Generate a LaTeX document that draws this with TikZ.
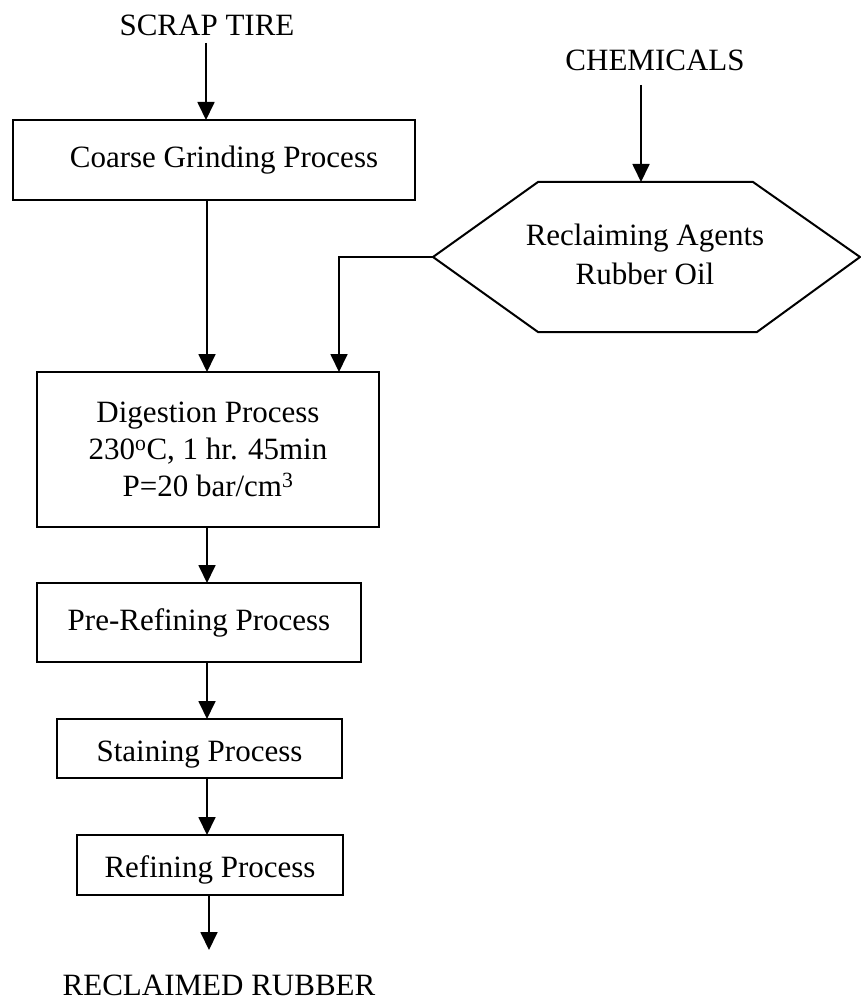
\documentclass[tikz,border=0pt]{standalone}
\usepackage{fontspec}
\setmainfont{Liberation Serif}
\usetikzlibrary{arrows.meta}
\begin{document}
\begin{tikzpicture}[x=1pt,y=-1pt,
  lbl/.style={font=\fontsize{31}{38}\selectfont, inner sep=0pt, outer sep=0pt, align=center},
  box/.style={draw, line width=2pt, inner sep=0pt, outer sep=0pt, font=\fontsize{31}{38}\selectfont, align=center},
  arr/.style={line width=1.8pt, -{Triangle[width=17pt,length=18pt]}}]
\useasboundingbox[fill=white] (0,0) rectangle (861,1003);
% column
\coordinate (col) at (207,0);
% inputs
\node[lbl, anchor=base] (scrap) at (207,36) {SCRAP TIRE};
\coordinate (scrapout) at (206,43);
\node[lbl, anchor=base] (chem) at (655,71) {CHEMICALS};
\coordinate (chemout) at (641,85);
% boxes
\node[box, minimum width=402pt, minimum height=80pt] (coarse) at (214,160) {\hspace*{20pt}Coarse Grinding Process};
\node[box, minimum width=342pt, minimum height=155pt, font=\fontsize{31}{37}\selectfont] (dig) at (208,449.5) {Digestion Process\\230\textsuperscript{o}C, 1 hr. 45min\\P=20 bar/cm\textsuperscript{3}};
\node[box, minimum width=324pt, minimum height=79pt] (pre) at (199,622.5) {Pre-Refining Process};
\node[box, minimum width=285pt, minimum height=59pt] (stain) at (199.5,748.5) {\rule{0pt}{32pt}Staining Process};
\node[box, minimum width=266pt, minimum height=60pt] (refine) at (210,865) {\rule{0pt}{32pt}Refining Process};
\node[lbl, anchor=base] (rec) at (219,995) {RECLAIMED RUBBER};
\coordinate (recin) at (209,950);
% hexagon
\coordinate (h1) at (538,182);
\coordinate (h2) at (753,182);
\coordinate (h3) at (860,257);
\coordinate (h4) at (757,332);
\coordinate (h5) at (538,332);
\coordinate (hL) at (433,257);
\draw[line width=2pt, line join=miter] (h1) -- (h2) -- (h3) -- (h4) -- (h5) -- (hL) -- cycle;
\node[lbl, font=\fontsize{31}{39}\selectfont] (agents) at (645,254) {Reclaiming Agents\\Rubber Oil};
\coordinate (bend) at (339,257);
% connectors
\draw[arr] (scrapout) -- (coarse.north -| scrapout);
\draw[arr] (chemout) -- (h1 -| chemout);
\draw[arr] (coarse.south -| col) -- (dig.north -| col);
\draw[arr] (hL) -- (bend) -- (dig.north -| bend);
\draw[arr] (dig.south -| col) -- (pre.north -| col);
\draw[arr] (pre.south -| col) -- (stain.north -| col);
\draw[arr] (stain.south -| col) -- (refine.north -| col);
\draw[arr] (refine.south -| recin) -- (recin);
\end{tikzpicture}
\end{document}
